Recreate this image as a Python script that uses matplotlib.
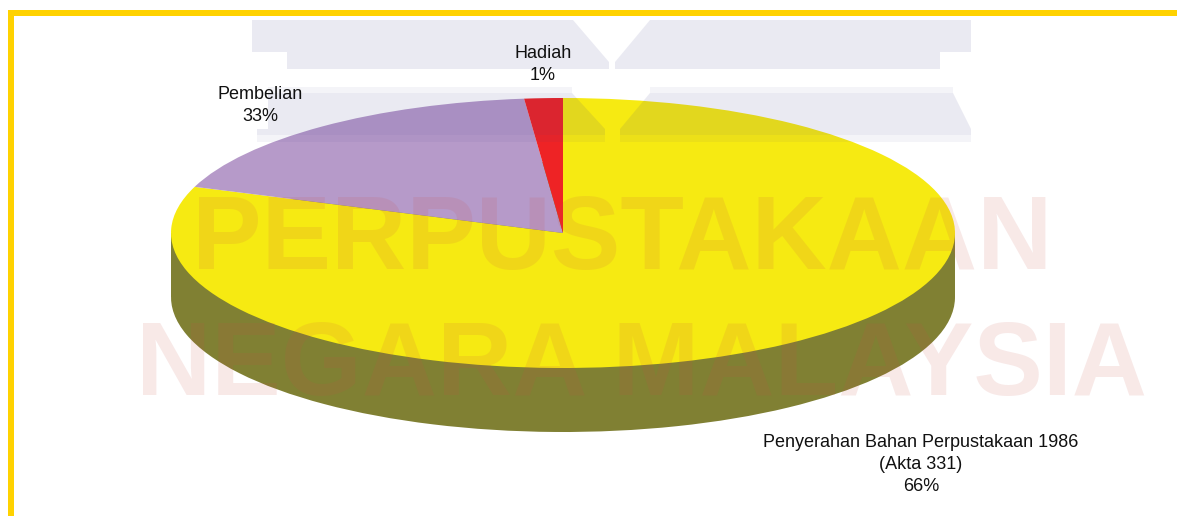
import matplotlib
matplotlib.use("Agg")
import matplotlib.pyplot as plt
from matplotlib.patches import Polygon, Rectangle

# Data
categories = ["Penyerahan Bahan Perpustakaan 1986\n(Akta 331)", "Pembelian", "Hadiah"]
shares = [66, 33, 1]                 # printed percentages
drawn_sweep = [290.0, 64.3, 5.7]     # slice angles as drawn in the picture (degrees)

W, H = 1177, 516
CX, CY, RX, RY, DEPTH = 563, 233, 392, 135, 64
YELLOW, PURPLE, RED, SIDE = "#F6EA12", "#B69AC9", "#EE2325", "#808033"
GOLD = "#FFD200"
FONT = "Liberation Sans"

fig = plt.figure(figsize=(W / 100, H / 100), dpi=100, facecolor="white")
ax = fig.add_axes([0, 0, 1, 1])

# Side of the disc
ax.pie(drawn_sweep, colors=[SIDE] * 3, startangle=90, counterclock=False,
       center=(0, -DEPTH / RY), radius=1, frame=False)
ax.add_patch(Rectangle((-1, -DEPTH / RY), 2, DEPTH / RY, color=SIDE, lw=0, zorder=0.5))
# Top of the disc
ax.pie(drawn_sweep, colors=[YELLOW, PURPLE, RED], startangle=90, counterclock=False,
       center=(0, 0), radius=1, frame=False)
for w in ax.patches:
    w.set_linewidth(0)

ax.set_aspect("auto")
ax.set_xlim((0 - CX) / RX, (W - CX) / RX)
ax.set_ylim((CY - H) / RY, CY / RY)
ax.axis("off")

# Overlay axes in pixel coordinates
ov = fig.add_axes([0, 0, 1, 1], facecolor="none")
ov.set_xlim(0, W)
ov.set_ylim(H, 0)
ov.axis("off")

# Pale blocky watermark shapes
blue = (55 / 255, 55 / 255, 136 / 255)
shapes = [
    [(252, 20), (573, 20), (609, 62), (609, 69), (287, 69), (287, 52), (252, 52)],
    [(650, 20), (971, 20), (971, 52), (940, 52), (940, 69), (615, 69), (615, 62)],
    [(268, 93), (572, 93), (605, 129), (605, 135), (257, 135), (257, 129), (268, 129)],
    [(650, 93), (953, 93), (971, 129), (971, 135), (620, 135), (620, 129)],
]
for s in shapes:
    ov.add_patch(Polygon(s, closed=True, fc=blue, ec="none", alpha=0.10, zorder=3))
# Lighter blurred rims of the lower shapes
rims = [
    [(268, 87), (572, 87), (572, 93), (268, 93)],
    [(650, 87), (953, 87), (953, 93), (650, 93)],
    [(257, 135), (605, 135), (605, 142), (257, 142)],
    [(620, 135), (971, 135), (971, 142), (620, 142)],
]
for s in rims:
    ov.add_patch(Polygon(s, closed=True, fc=blue, ec="none", alpha=0.05, zorder=3))

# Red watermark text
wm = (200 / 255, 80 / 255, 70 / 255)
ov.text(622.5, 242, "PERPUSTAKAAN", ha="center", va="center", family=FONT, weight="bold",
        fontsize=75, color=wm, alpha=0.126, zorder=3)
ov.text(642, 368, "NEGARA MALAYSIA", ha="center", va="center", family=FONT, weight="bold",
        fontsize=75, color=wm, alpha=0.126, zorder=3)

# Labels
label_pos = [(921, 464.5), (260, 105.5), (543, 64.5)]
for cat, val, (x, y) in zip(categories, shares, label_pos):
    ov.text(x, y, f"{cat}\n{val}%", ha="center", va="center", family=FONT,
            fontsize=13, color="#111111", linespacing=1.38, zorder=5)

# Gold frame
ov.add_patch(Rectangle((8, 10), W - 8, 6, fc=GOLD, ec="none", zorder=6))
ov.add_patch(Rectangle((8, 10), 6, H - 10, fc=GOLD, ec="none", zorder=6))

fig.savefig("out.png", dpi=100, facecolor="white")
